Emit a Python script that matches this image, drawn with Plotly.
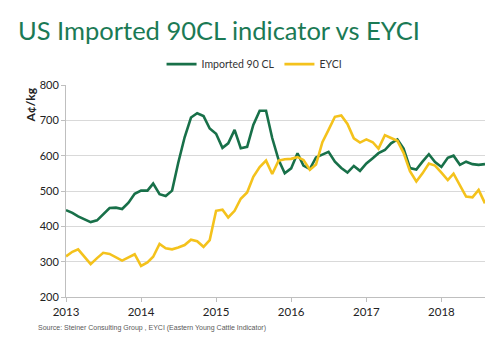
import plotly.graph_objects as go
import pandas as pd

months = pd.date_range("2013-01-01", periods=68, freq="MS")

imported_90cl = [
    446, 438, 428, 420, 412, 417, 435, 452, 453, 449, 467, 492,
    501, 501, 521, 491, 486, 501, 580, 652, 708, 720, 712, 677,
    662, 622, 635, 673, 621, 625, 687, 727, 727, 650, 588, 550,
    564, 607, 572, 562, 595, 603, 611, 583, 565, 552, 571, 557,
    578, 593, 607, 616, 635, 646, 620, 565, 561, 583, 604, 582,
    568, 594, 600, 574, 583, 576, 574, 576,
]
eyci = [
    315, 328, 335, 315, 293, 310, 325, 322, 312, 303, 312, 321,
    288, 298, 314, 350, 338, 335, 340, 347, 362, 358, 342, 361,
    444, 447, 425, 444, 478, 496, 540, 568, 586, 548, 586, 590,
    591, 596, 588, 560, 575, 638, 673, 710, 714, 690, 649, 637,
    646, 638, 620, 658, 650, 642, 608, 556, 527, 550, 578, 572,
    552, 531, 549, 515, 484, 482, 503, 465,
]

title_text = "US Imported 90CL indicator vs EYCI"
y_label = "A¢/kg"
source_text = "Source: Steiner Consulting Group , EYCI (Eastern Young Cattle Indicator)"

GREEN = "#187049"
YELLOW = "#f4c21c"
TITLE_GREEN = "#1b7a55"

fig = go.Figure()
fig.add_trace(go.Scatter(x=months, y=imported_90cl, mode="lines", name="Imported 90 CL",
                         line=dict(color=GREEN, width=2.6)))
fig.add_trace(go.Scatter(x=months, y=eyci, mode="lines", name="EYCI",
                         line=dict(color=YELLOW, width=2.6)))

fig.update_layout(
    width=500, height=345,
    margin=dict(l=66, r=15, t=85, b=48),
    paper_bgcolor="white", plot_bgcolor="white",
    font=dict(family="Lato", size=11, color="#333333"),
    title=dict(text=title_text, x=0.036, xanchor="left", y=0.885, yanchor="bottom",
               font=dict(family="Lato", size=25.5, color=TITLE_GREEN)),
    showlegend=True,
    legend=dict(orientation="h", x=0.45, xanchor="center", y=1.03, yanchor="bottom",
                font=dict(family="Lato", size=10.5, color="#333333"),
                bgcolor="rgba(0,0,0,0)"),
    xaxis=dict(
        type="date",
        range=["2013-01-01", "2018-08-01"],
        dtick="M12", tick0="2013-01-01", tickformat="%Y",
        showgrid=False, showline=True, linecolor="#bfbfbf", linewidth=1,
        ticks="outside", ticklen=4, tickcolor="#bfbfbf",
        tickfont=dict(family="Lato", size=11.5, color="#222222"),
    ),
    yaxis=dict(
        range=[200, 800], dtick=100, tick0=200,
        showgrid=True, gridcolor="#d9d9d9", gridwidth=1,
        showline=True, linecolor="#bfbfbf", linewidth=1,
        ticks="outside", ticklen=4, tickcolor="#bfbfbf",
        tickfont=dict(family="Lato", size=11, color="#222222"),
        zeroline=False,
    ),
    annotations=[
        dict(text=f"<b>{y_label}</b>", textangle=-90, xref="paper", yref="paper",
             x=-0.085, y=0.905, xanchor="center", yanchor="middle", showarrow=False,
             font=dict(family="Lato", size=12, color="#222222")),
        dict(text=source_text, xref="paper", yref="paper", x=-0.072, y=-0.145,
             xanchor="left", yanchor="middle", showarrow=False,
             font=dict(family="Liberation Sans", size=7, color="#595959")),
    ],
)

fig.write_html("out.html")
